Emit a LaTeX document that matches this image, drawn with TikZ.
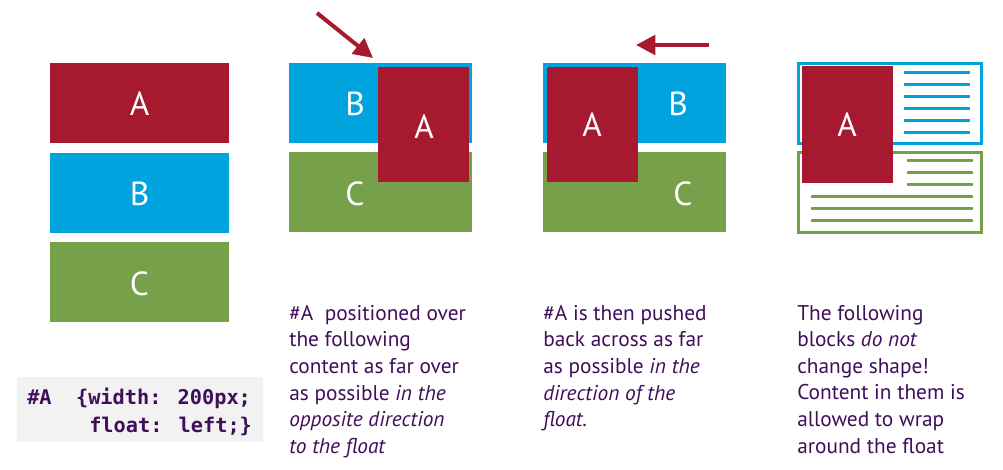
\documentclass[tikz,border=0pt]{standalone}
\usepackage{fontspec}
\setmainfont{PT Sans}
\newfontfamily\codefont{DejaVu Sans Mono}
\usetikzlibrary{arrows.meta}
\definecolor{cred}{HTML}{A6192E}
\definecolor{cblue}{HTML}{00A3DD}
\definecolor{cgreen}{HTML}{77A04A}
\definecolor{ctext}{HTML}{3F0F5A}
\definecolor{cgrey}{HTML}{F2F2F2}
\begin{document}
\begin{tikzpicture}[x=0.75pt,y=-0.75pt,
  lbl/.style={text=white,font=\fontsize{25}{25}\selectfont,inner sep=0pt},
  desc/.style={text=ctext,font=\fontsize{16}{19.9}\selectfont,align=left,anchor=north west,inner sep=0pt},
  codetxt/.style={anchor=base west,inner sep=0pt,text=ctext,font=\codefont\bfseries\fontsize{15.2}{21}\selectfont},
  bigarrow/.style={draw=cred,line width=3pt,-{Triangle[length=14.5pt,width=14.5pt]}},
  bline/.style={draw=cblue,line width=2.25pt},
  gline/.style={draw=cgreen,line width=2.25pt}]
\useasboundingbox (0,0) rectangle (1003,470);
% panel 1
\fill[cred] (50,63) rectangle (229,143);
\node[lbl] (a1) at (139.5,104) {A};
\fill[cblue] (50,153) rectangle (229,233);
\node[lbl] (b1) at (139.5,194) {B};
\fill[cgreen] (50,242) rectangle (229,322);
\node[lbl] (c1) at (139.5,284) {C};
\fill[cgrey] (17,377) rectangle (263,442);
\node[codetxt] (code1) at (27,404) {\#A\ \ \{width: 200px;};
\node[codetxt] (code2) at (89,432) {float: left;\}};
% panel 2
\fill[cblue] (289,63) rectangle (472,143);
\fill[cgreen] (289,152) rectangle (472,232);
\fill[cred] (378,67) rectangle (469,182);
\node[lbl] (b2) at (355,104) {B};
\node[lbl] (c2) at (355,194) {C};
\node[lbl] (a2) at (424,127) {A};
\coordinate (s2) at (317,13);
\coordinate (t2) at (373,58);
\draw[bigarrow] (s2) -- (t2);
\node[desc] (d2) at (289,305) {\#A\ \ positioned over\\the following\\content as far over\\as possible \textit{in the}\\\textit{opposite direction}\\\textit{to the float}};
% panel 3
\fill[cblue] (543,63) rectangle (726,143);
\fill[cgreen] (543,152) rectangle (726,232);
\fill[cred] (547,67) rectangle (638,182);
\node[lbl] (a3) at (592,125) {A};
\node[lbl] (b3) at (678,104) {B};
\node[lbl] (c3) at (683,194) {C};
\coordinate (s3) at (709,45);
\coordinate (t3) at (636,45);
\draw[bigarrow] (s3) -- (t3);
\node[desc] (d3) at (543,305) {\#A is then pushed\\back across as far\\as possible \textit{in the}\\\textit{direction of the}\\\textit{float.}};
% panel 4
\draw[cblue,line width=2.25pt] (798.5,63.5) rectangle (981.5,143.5);
\draw[cgreen,line width=2.25pt] (798.5,152.5) rectangle (981.5,232.5);
\foreach \yy in {73,85,97,109,121,133} \draw[bline] (904,\yy) -- (970,\yy);
\foreach \yy in {161,173,185} \draw[gline] (907,\yy) -- (973,\yy);
\foreach \yy in {197,209,221} \draw[gline] (811,\yy) -- (973,\yy);
\fill[cred] (802,66) rectangle (893,183);
\node[lbl] (a4) at (847,125) {A};
\node[desc] (d4) at (797,305) {The following\\blocks \textit{do not}\\change shape!\\Content in them is\\allowed to wrap\\around the float};
\end{tikzpicture}
\end{document}
